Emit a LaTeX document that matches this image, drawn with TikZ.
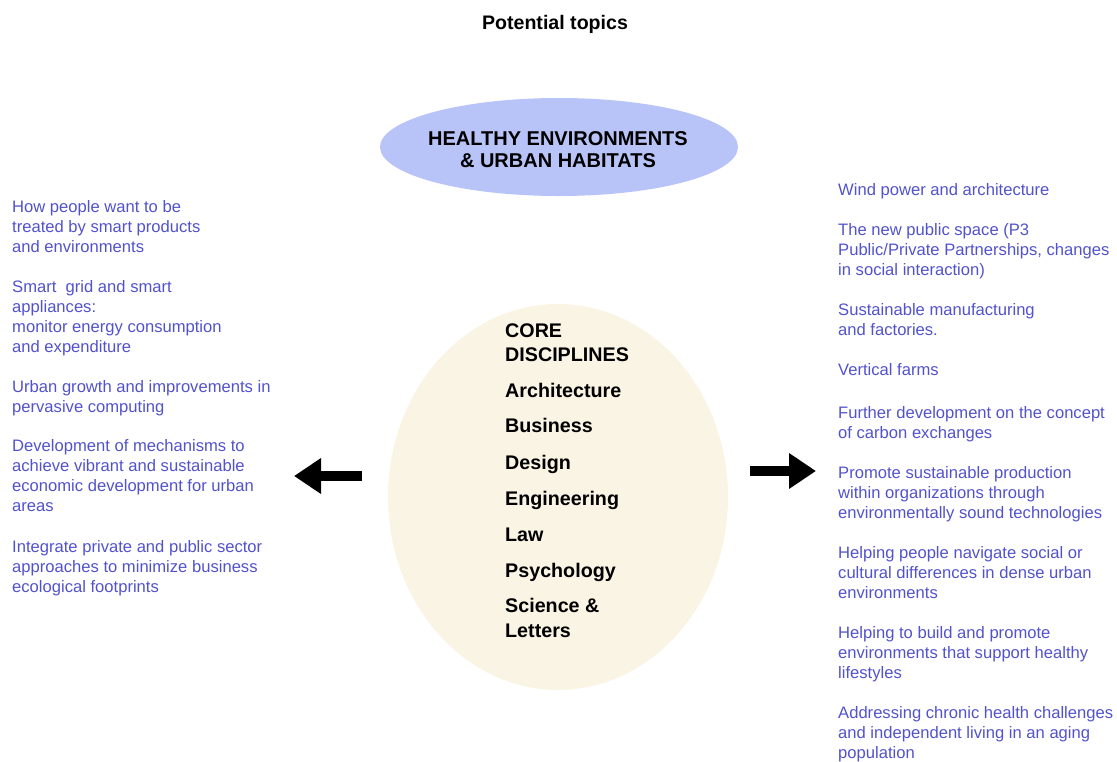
\documentclass[tikz,border=0pt]{standalone}
\usepackage{fontspec}
\setmainfont{Liberation Sans}
\usetikzlibrary{arrows.meta}
\definecolor{topicblue}{RGB}{82,82,205}
\definecolor{habitat}{RGB}{184,196,248}
\definecolor{corefill}{RGB}{250,244,228}
\tikzset{
  topic/.style={anchor=north west, inner sep=0pt, align=left, text=topicblue,
    font=\fontsize{16.6}{20}\selectfont},
  coreitem/.style={anchor=base west, inner sep=0pt, font=\fontsize{19.7}{24}\selectfont\bfseries},
  bigarrow/.style={line width=10pt, -{Triangle[length=27pt,width=34pt]}}
}
\begin{document}
\begin{tikzpicture}[x=1pt,y=-1pt]
\useasboundingbox (0,0) rectangle (1117,761);
% title
\node[inner sep=0pt, font=\fontsize{19.6}{22}\selectfont\bfseries] (title) at (555,24) {Potential topics};
% habitat ellipse
\fill[habitat] (559,147) ellipse [x radius=179pt, y radius=49pt];
\node[inner sep=0pt, align=center, font=\fontsize{20}{22}\selectfont\bfseries] (habitat) at (558,150) {HEALTHY ENVIRONMENTS\\\& URBAN HABITATS};
% core ellipse
\fill[corefill] (558,497) ellipse [x radius=170pt, y radius=193pt];
\node[coreitem] (c1) at (505,337) {CORE};
\node[coreitem] (c2) at (505,361) {DISCIPLINES};
\node[coreitem] (c3) at (505,397) {Architecture};
\node[coreitem] (c4) at (505,432) {Business};
\node[coreitem] (c5) at (505,469) {Design};
\node[coreitem] (c6) at (505,505) {Engineering};
\node[coreitem] (c7) at (505,541) {Law};
\node[coreitem] (c8) at (505,577) {Psychology};
\node[coreitem] (c9) at (505,612) {Science \&};
\node[coreitem] (c10) at (505,637) {Letters};
% arrows
\coordinate (la) at (362,476);
\coordinate (lb) at (294,476);
\coordinate (ra) at (750,471);
\coordinate (rb) at (816,471);
\draw[bigarrow] (la) -- (lb);
\draw[bigarrow] (ra) -- (rb);
% left topics
\node[topic] (l1) at (12,198) {\strut How people want to be\\treated by smart products\\and environments};
\node[topic] (l2) at (12,278) {\strut Smart\ \ grid and smart\\appliances:\\monitor energy consumption\\and expenditure};
\node[topic] (l3) at (12,378) {\strut Urban growth and improvements in\\pervasive computing};
\node[topic] (l4) at (12,437) {\strut Development of mechanisms to\\achieve vibrant and sustainable\\economic development for urban\\areas};
\node[topic] (l5) at (12,538) {\strut Integrate private and public sector\\approaches to minimize business\\ecological footprints};
% right topics
\node[topic] (r1) at (838,181) {\strut Wind power and architecture};
\node[topic] (r2) at (838,221) {\strut The new public space (P3\\Public/Private Partnerships, changes\\in social interaction)};
\node[topic] (r3) at (838,301) {\strut Sustainable manufacturing\\and factories.};
\node[topic] (r4) at (838,361) {\strut Vertical farms};
\node[topic] (r5) at (838,404) {\strut Further development on the concept\\of carbon exchanges};
\node[topic] (r6) at (838,464) {\strut Promote sustainable production\\within organizations through\\environmentally sound technologies};
\node[topic] (r7) at (838,544) {\strut Helping people navigate social or\\cultural differences in dense urban\\environments};
\node[topic] (r8) at (838,624) {\strut Helping to build and promote\\environments that support healthy\\lifestyles};
\node[topic] (r9) at (838,704) {\strut Addressing chronic health challenges\\and independent living in an aging\\population};
\end{tikzpicture}
\end{document}
